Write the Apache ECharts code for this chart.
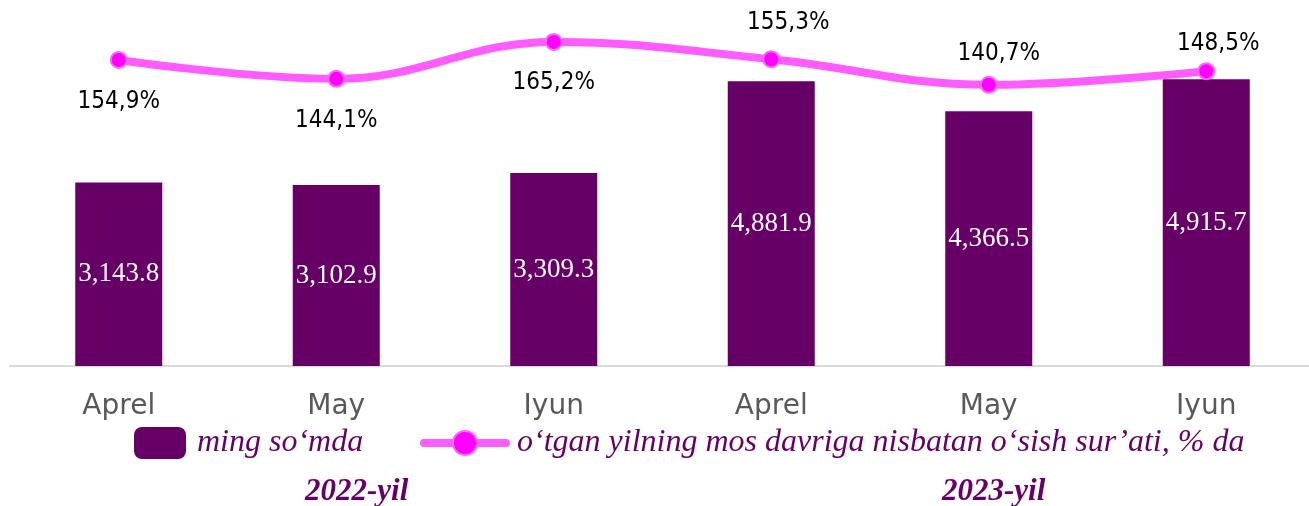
<!DOCTYPE html>
<html>
<head>
<meta charset="utf-8">
<script src="https://cdn.jsdelivr.net/npm/echarts@6/dist/echarts.min.js"></script>
<style>
  html, body { margin: 0; padding: 0; background: #fff; }
  #chart { width: 1309px; height: 506px; }
</style>
</head>
<body>
<div id="chart"></div>
<script>
// kategoriyalar (oylar)
var months = ['Aprel', 'May', 'Iyun', 'Aprel', 'May', 'Iyun']
// ming so'mda
var amounts = [3143.8, 3102.9, 3309.3, 4881.9, 4366.5, 4915.7]
// o'sish sur'ati, %
var growth = [154.9, 144.1, 165.2, 155.3, 140.7, 148.5]
var years = ['2022-yil', '2023-yil']
var barName = 'ming so‘mda'
var lineName = 'o‘tgan yilning mos davriga nisbatan o‘sish sur’ati, % da'

// label joylashuvi (faqat ko'rinish uchun)
var labelSide = ['bottom', 'bottom', 'bottom', 'top', 'top', 'top']
var labelGap = [21, 21, 20, 15, 10, 6]
var labelShift = [0, 0, 0, 17, 10, 12]

var myChart = echarts.init(document.getElementById('chart'))

var lineData = growth.map(function (v, i) {
  return {
    value: v,
    label: { position: labelSide[i], distance: labelGap[i], offset: [labelShift[i], 0] }
  }
})

var option = {
  animation: false,
  grid: { left: 10, width: 1305, top: 16, bottom: 140, outerBoundsMode: 'none' },
  legend: [
    {
      data: [barName],
      left: 129,
      top: 422,
      itemWidth: 52,
      itemHeight: 32,
      itemStyle: { borderRadius: 4 },
      textStyle: {
        fontFamily: 'Liberation Serif',
        fontStyle: 'italic',
        fontSize: 32,
        color: '#660066',
        padding: [0, 0, 0, 6]
      }
    },
    {
      data: [lineName],
      left: 415,
      top: 422,
      itemWidth: 82,
      itemHeight: 30,
      lineStyle: { width: 8, cap: 'round' },
      textStyle: {
        fontFamily: 'Liberation Serif',
        fontStyle: 'italic',
        fontSize: 32,
        color: '#660066',
        padding: [0, 0, 0, 6]
      }
    }
  ],
  xAxis: {
    type: 'category',
    data: months,
    axisLine: { lineStyle: { color: '#d9d9d9', width: 2 } },
    axisTick: { show: false },
    axisLabel: {
      color: '#595959',
      fontFamily: 'DejaVu Sans',
      fontSize: 28,
      margin: 27
    }
  },
  yAxis: [
    { type: 'value', min: 0, max: 6000, show: false },
    { type: 'value', min: -20, max: 180, show: false }
  ],
  series: [
    {
      name: barName,
      type: 'bar',
      data: amounts,
      barWidth: 87,
      itemStyle: { color: '#660066' },
      label: {
        show: true,
        position: 'inside',
        color: '#fff',
        fontFamily: 'Liberation Serif',
        fontSize: 27,
        formatter: function (p) {
          return p.value.toLocaleString('en-US', { minimumFractionDigits: 1, maximumFractionDigits: 1 })
        }
      }
    },
    {
      name: lineName,
      type: 'line',
      yAxisIndex: 1,
      data: lineData,
      smooth: 0.4,
      symbol: 'circle',
      symbolSize: 16,
      z: 5,
      lineStyle: { color: '#ff5cff', width: 8 },
      itemStyle: { color: '#ff00ff', borderColor: '#ff66ff', borderWidth: 2 },
      label: {
        show: true,
        color: '#000',
        fontFamily: 'DejaVu Sans Condensed',
        fontSize: 24,
        formatter: function (p) {
          return p.value.toFixed(1).replace('.', ',') + '%'
        }
      }
    }
  ],
  graphic: [
    {
      type: 'text',
      left: 305,
      top: 476,
      style: {
        text: years[0],
        fill: '#660066',
        font: 'italic bold 31px "Liberation Serif"'
      }
    },
    {
      type: 'text',
      left: 942,
      top: 476,
      style: {
        text: years[1],
        fill: '#660066',
        font: 'italic bold 31px "Liberation Serif"'
      }
    }
  ]
}

myChart.setOption(option)
</script>
</body>
</html>
